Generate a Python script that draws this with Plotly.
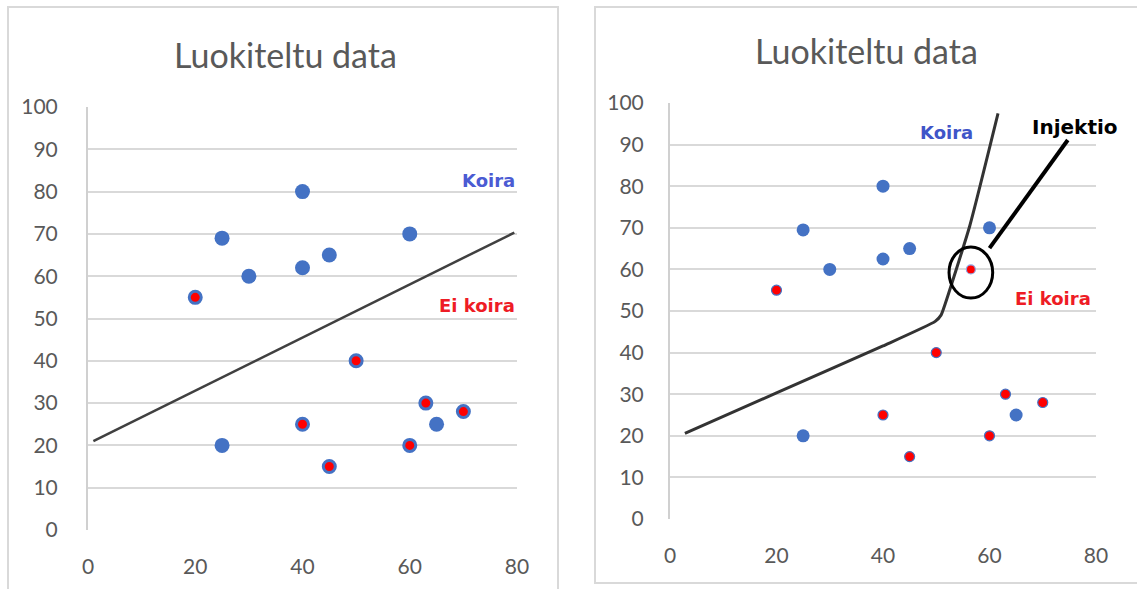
import plotly.graph_objects as go

# Classified data: "Koira" (dog) and "Ei koira" (not a dog)
koira_x = [25, 30, 40, 40, 45, 60, 25, 65]
koira_y = [69, 60, 80, 62, 65, 70, 20, 25]

ei_koira_x = [20, 50, 40, 45, 60, 63, 70]
ei_koira_y = [55, 40, 25, 15, 20, 30, 28]

# Second panel: same data plus one injected sample
koira2_y = [69.5, 60, 80, 62.5, 65, 70, 20, 25]
injektio_x = [56.5]
injektio_y = [60]

# Decision boundaries
raja1_x = [1, 79.5]
raja1_y = [21, 70.3]
raja2_x = [2.8, 20, 40, 49.8, 50.9, 51.7, 56.3, 61.6]
raja2_y = [20.6, 30.3, 41.6, 47.5, 49.0, 51.8, 70.5, 97.5]

x_ticks = [0, 20, 40, 60, 80]
y_ticks = [0, 10, 20, 30, 40, 50, 60, 70, 80, 90, 100]

W, H = 1137, 589
BLUE = "#4472C4"
RED = "#FF0000"
GRAY = "#595959"

fig = go.Figure()

# Left panel
fig.add_trace(go.Scatter(x=raja1_x, y=raja1_y, mode="lines",
                         line=dict(color="#404040", width=2.5),
                         xaxis="x", yaxis="y", showlegend=False))
fig.add_trace(go.Scatter(x=koira_x, y=koira_y, mode="markers",
                         marker=dict(color=BLUE, size=15),
                         xaxis="x", yaxis="y", showlegend=False))
fig.add_trace(go.Scatter(x=ei_koira_x, y=ei_koira_y, mode="markers",
                         marker=dict(color=RED, size=12, line=dict(color=BLUE, width=3)),
                         xaxis="x", yaxis="y", showlegend=False))

# Right panel
fig.add_trace(go.Scatter(x=raja2_x, y=raja2_y, mode="lines",
                         line=dict(color="#333333", width=3, shape="spline", smoothing=0.5),
                         xaxis="x2", yaxis="y2", showlegend=False))
fig.add_trace(go.Scatter(x=koira_x, y=koira2_y, mode="markers",
                         marker=dict(color=BLUE, size=13),
                         xaxis="x2", yaxis="y2", showlegend=False))
fig.add_trace(go.Scatter(x=ei_koira_x, y=ei_koira_y, mode="markers",
                         marker=dict(color=RED, size=10, line=dict(color=BLUE, width=1.2)),
                         xaxis="x2", yaxis="y2", showlegend=False))
fig.add_trace(go.Scatter(x=injektio_x, y=injektio_y, mode="markers",
                         marker=dict(color=RED, size=9, line=dict(color="#8fa3e0", width=1.2)),
                         xaxis="x2", yaxis="y2", showlegend=False))

tick_font = dict(family="Lato, sans-serif", size=21, color=GRAY)


def xax(domain, anchor):
    return dict(domain=domain, anchor=anchor, range=[0, 80], tickvals=x_ticks,
                showgrid=False, zeroline=False, showline=False, automargin=False,
                ticks="", tickfont=tick_font, ticklabelstandoff=22,
                fixedrange=True)


def yax(domain, anchor, standoff):
    return dict(domain=domain, anchor=anchor, range=[0, 100], tickvals=y_ticks,
                showgrid=True, gridcolor="#D9D9D9", gridwidth=1.5, automargin=False,
                zeroline=False, showline=True, linecolor="#D0D0D0", linewidth=2,
                ticks="", tickfont=tick_font, ticklabelstandoff=standoff,
                fixedrange=True)


fig.update_layout(
    width=W, height=H,
    margin=dict(l=0, r=0, t=0, b=0, autoexpand=False),
    paper_bgcolor="white", plot_bgcolor="white",
    xaxis=xax([88 / W, 517 / W], "y"),
    yaxis=yax([1 - 530 / H, 1 - 107 / H], "x", 24),
    xaxis2=xax([670 / W, 1096 / W], "y2"),
    yaxis2=yax([1 - 519 / H, 1 - 103 / H], "x2", 20),
)

# Outer chart frames
fig.add_shape(type="rect", xref="paper", yref="paper",
              x0=8 / W, x1=558 / W, y0=-0.05, y1=1 - 7 / H,
              line=dict(color="#D9D9D9", width=2), layer="below")
fig.add_shape(type="rect", xref="paper", yref="paper",
              x0=595 / W, x1=1.01, y0=1 - 583 / H, y1=1 - 7 / H,
              line=dict(color="#D9D9D9", width=2), layer="below")

# Injection marker: circle and pointer
fig.add_shape(type="circle", xref="x2", yref="y2",
              x0=52.4, x1=60.6, y0=53.1, y1=65.4,
              line=dict(color="black", width=3))
fig.add_shape(type="line", xref="x2", yref="y2",
              x0=60.0, y0=65.1, x1=74.7, y1=91.1,
              line=dict(color="black", width=4))

title_font = dict(family="Lato, sans-serif", size=34, color=GRAY)
lbl = "DejaVu Sans, sans-serif"
fig.add_annotation(text="Luokiteltu data", xref="paper", yref="paper",
                   x=285 / W, y=1 - 55 / H, xanchor="center", yanchor="middle",
                   showarrow=False, font=title_font)
fig.add_annotation(text="Luokiteltu data", xref="paper", yref="paper",
                   x=866 / W, y=1 - 50 / H, xanchor="center", yanchor="middle",
                   showarrow=False, font=title_font)

fig.add_annotation(text="<b>Koira</b>", xref="x", yref="y", x=80, y=82.7,
                   xanchor="right", yanchor="middle", showarrow=False,
                   font=dict(family=lbl, size=18, color="#4B5BD3"))
fig.add_annotation(text="<b>Ei koira</b>", xref="x", yref="y", x=80, y=53,
                   xanchor="right", yanchor="middle", showarrow=False,
                   font=dict(family=lbl, size=18, color="#EE1C25"))
fig.add_annotation(text="<b>Koira</b>", xref="x2", yref="y2", x=52, y=92.8,
                   xanchor="center", yanchor="middle", showarrow=False,
                   font=dict(family=lbl, size=18, color="#3F55C8"))
fig.add_annotation(text="<b>Ei koira</b>", xref="x2", yref="y2", x=72, y=53.1,
                   xanchor="center", yanchor="middle", showarrow=False,
                   font=dict(family=lbl, size=18, color="#EE1C25"))
fig.add_annotation(text="<b>Injektio</b>", xref="x2", yref="y2", x=76, y=94.2,
                   xanchor="center", yanchor="middle", showarrow=False,
                   font=dict(family=lbl, size=20, color="black"))

fig.write_html("out.html")
